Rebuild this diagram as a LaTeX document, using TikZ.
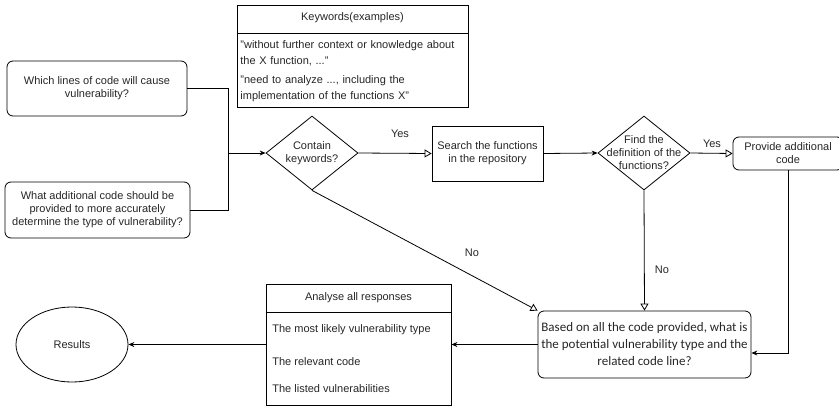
\documentclass[tikz,border=0pt]{standalone}
\usepackage{fontspec}
\setmainfont{Liberation Sans}
\newfontfamily\questfont{Carlito}
\usetikzlibrary{arrows.meta,shapes.geometric}

\begin{document}
\begin{tikzpicture}[x=1pt,y=-1pt,
  font=\fontsize{11}{13}\selectfont,
  line width=0.8pt,
  every node/.style={text=black!85},
  rbox/.style={draw, rounded corners=6pt, align=center, inner sep=0pt},
  sbox/.style={draw, align=center, inner sep=0pt},
  decision/.style={draw, diamond, inner sep=0pt},
  txt/.style={align=center, inner sep=0pt},
  ltxt/.style={anchor=west, align=left, inner sep=0pt},
  solidhead/.style={-{Stealth[length=6pt,width=5pt]}},
  openhead/.style={-{Triangle[open,length=7pt,width=8pt]}}
]
\useasboundingbox (0,0) rectangle (839,405);

% question boxes on the left
\node[rbox, minimum width=180pt, minimum height=55pt] (q1) at (97,88.5)
  {Which lines of code will cause\\vulnerability?};
\node[rbox, minimum width=185pt, minimum height=56pt] (q2) at (97.5,210)
  {What additional code should be\\provided to more accurately\\determine the type of vulnerability?};
\coordinate (join) at (228,153);

% keyword decision
\node[decision, minimum width=92pt, minimum height=74pt] (d1) at (312,153) {};
\node[txt] (d1t) at (d1) {Contain\\keywords?};

% keyword examples table
\node[sbox, minimum width=231pt, minimum height=102pt] (kw) at (352.5,56) {};
\draw (kw.west |- 0,33) -- (kw.east |- 0,33);
\node[txt] (kwh) at (352.5,18) {Keywords(examples)};
\node[ltxt, text width=225pt, font=\fontsize{11}{16}\selectfont] (kw1) at (240,53)
  {"without further context or knowledge about\\the X function, ..."};
\node[ltxt, text width=225pt, font=\fontsize{11}{16}\selectfont] (kw2) at (240,89)
  {"need to analyze ..., including the\\implementation of the functions X"};

% repository search
\node[sbox, minimum width=111pt, minimum height=55pt] (srch) at (487.5,153.5)
  {Search the functions\\in the repository};

% definition decision
\node[decision, minimum width=92pt, minimum height=74pt] (d2) at (644,153) {};
\node[txt] (d2t) at (d2) {Find the\\definition of the\\functions?};

% extra code
\node[rbox, minimum width=110pt, minimum height=33pt] (prov) at (788,153.5)
  {Provide additional\\code};

% final question
\node[rbox, minimum width=213pt, minimum height=67pt, font=\questfont\fontsize{13}{17}\selectfont] (based) at (644.5,344.5)
  {Based on all the code provided, what is\\the potential vulnerability type and the\\related code line?};

% analysis table
\node[sbox, minimum width=185pt, minimum height=121pt] (an) at (358.5,344.5) {};
\draw (an.west |- 0,312) -- (an.east |- 0,312);
\node[txt] (anh) at (358.5,298) {Analyse all responses};
\node[ltxt] (an1) at (272,330) {The most likely vulnerability type};
\node[ltxt] (an2) at (272,362) {The relevant code};
\node[ltxt] (an3) at (272,389) {The listed vulnerabilities};

% outcome
\node[draw, ellipse, minimum width=112pt, minimum height=75pt] (res) at (72,344.5) {Results};

% connectors
\draw (q1.east) -| (join);
\draw (q2.east) -| (join);
\draw[solidhead] (join) -- (d1.west);
\draw[openhead] (d1.east) -- (srch.west);
\node[txt] (y1) at (400,134) {Yes};
\draw[solidhead] (srch.east) -- (d2.west);
\draw[openhead] (d2.east) -- (prov.west);
\node[txt] (y2) at (712,144) {Yes};
\draw[openhead] (d2.south) -- (based.north);
\node[txt] (n2) at (662,270) {No};
\draw[openhead] (d1.south) -- (based.north west);
\node[txt] (n1) at (472,253) {No};
\coordinate (down) at (788,353);
\draw[solidhead] (prov.south -| down) -- (down) -- (down -| based.east);
\draw[solidhead] (based.west) -- (based.west -| an.east);
\draw[solidhead] (an.west |- res.east) -- (res.east);
\end{tikzpicture}
\end{document}
